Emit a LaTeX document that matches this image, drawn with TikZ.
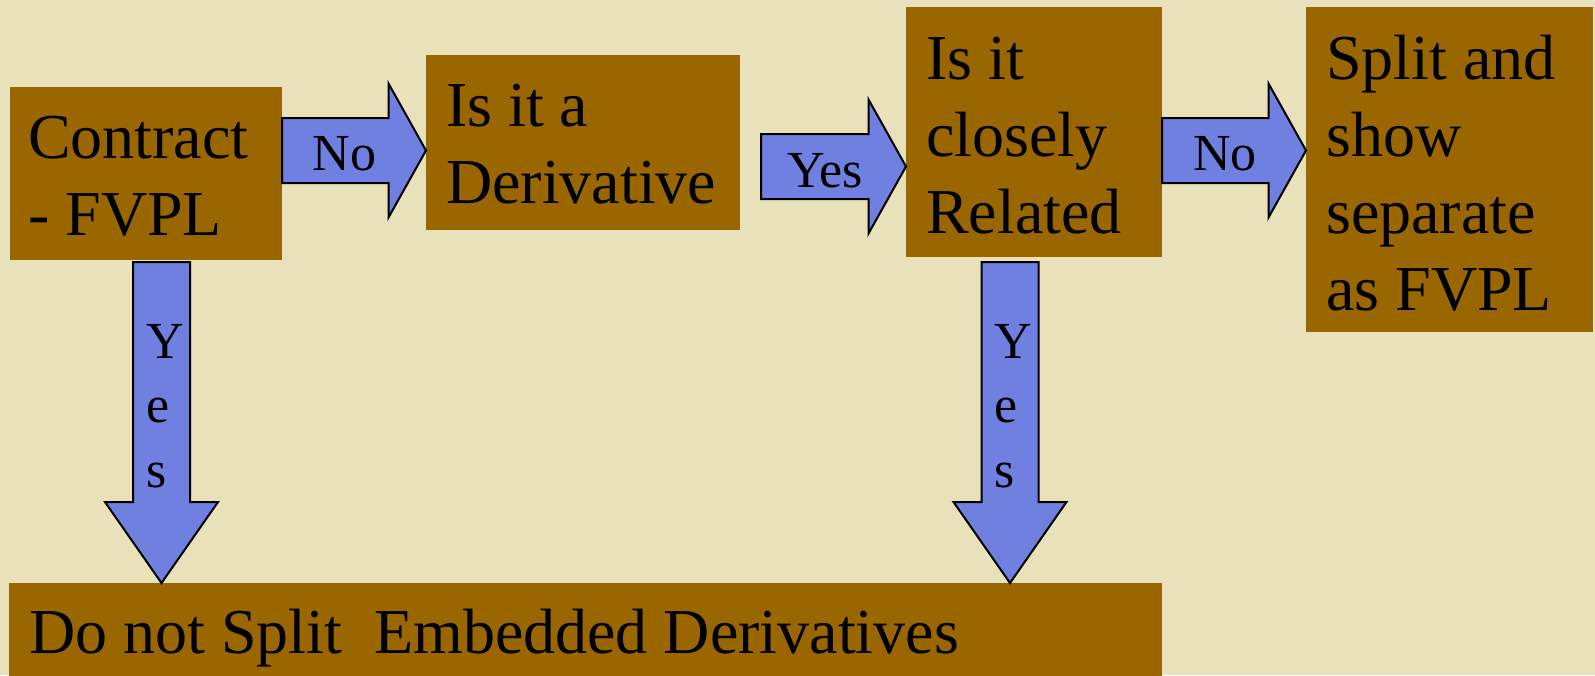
\documentclass[tikz,border=0pt]{standalone}
\usepackage{fontspec}
\setmainfont{Liberation Serif}
\usetikzlibrary{calc}
\definecolor{pagebg}{HTML}{E8E1B9}
\definecolor{boxbrown}{HTML}{996600}
\definecolor{arrowblue}{HTML}{7080E0}
\begin{document}
\begin{tikzpicture}[x=1pt, y=-1pt,
	box/.style={fill=boxbrown, inner sep=0pt, outer sep=0pt},
	boxtext/.style={anchor=base west, text width=1150pt, align=flush left, inner sep=0pt, font=\fontsize{64}{77}\selectfont},
	blockarrow/.style={fill=arrowblue, draw=black, line width=2pt, line join=miter},
	arrowtext/.style={anchor=base, text width=100pt, align=center, inner sep=0pt, font=\fontsize{52}{64.5}\selectfont},
	downtext/.style={anchor=base west, text width=60pt, align=flush left, inner sep=0pt, font=\fontsize{52}{64.5}\selectfont}]
	\fill[pagebg] (0,0) rectangle (1595,675);
	\useasboundingbox (0,0) rectangle (1595,675);
	% boxes
	\node[box, minimum width=272, minimum height=173] (contract) at (146,173.5) {};
	\node[box, minimum width=314, minimum height=175] (deriv) at (583,142.5) {};
	\node[box, minimum width=256, minimum height=250] (related) at (1034,132) {};
	\node[box, minimum width=287, minimum height=325] (split) at (1449.5,169.5) {};
	\node[box, minimum width=1153, minimum height=93] (bottom) at (585.5,629.5) {};
	\node[boxtext] (contracttext) at (28,158) {Contract\\- FVPL};
	\node[boxtext] (derivtext) at (446,126) {Is it a\\Derivative};
	\node[boxtext] (relatedtext) at (926,79) {Is it\\closely\\Related};
	\node[boxtext] (splittext) at (1326,79) {Split and\\show\\separate\\as FVPL};
	\node[boxtext] (bottomtext) at (29,653) {Do not Split~ Embedded Derivatives};
	% arrow axes
	\coordinate (noA) at (0,150.5);
	\coordinate (yesA) at (0,166.5);
	\coordinate (noB) at (0,150.5);
	\coordinate (yesL) at (161.5,0);
	\coordinate (yesR) at (1010,0);
	% right arrows
	\draw[blockarrow] ($(contract.east |- noA)+(0,-32.5)$) -- ($(deriv.west |- noA)+(-37.5,-32.5)$) -- ++(0,-34.5) -- (deriv.west |- noA) -- ++(-37.5,67) -- ++(0,-34.5) -- ($(contract.east |- noA)+(0,32.5)$) -- cycle;
	\draw[blockarrow] ($(deriv.east |- yesA)+(21,-32.5)$) -- ($(related.west |- yesA)+(-37.5,-32.5)$) -- ++(0,-34.5) -- (related.west |- yesA) -- ++(-37.5,67) -- ++(0,-34.5) -- ($(deriv.east |- yesA)+(21,32.5)$) -- cycle;
	\draw[blockarrow] ($(related.east |- noB)+(0,-32.5)$) -- ($(split.west |- noB)+(-37.5,-32.5)$) -- ++(0,-34.5) -- (split.west |- noB) -- ++(-37.5,67) -- ++(0,-34.5) -- ($(related.east |- noB)+(0,32.5)$) -- cycle;
	% down arrows
	\draw[blockarrow] ($(yesL |- contract.south)+(-28.5,2)$) -- ($(yesL |- bottom.north)+(-28.5,-81)$) -- ++(-28,0) -- (yesL |- bottom.north) -- ++(56.5,-81) -- ++(-28,0) -- ($(yesL |- contract.south)+(28.5,2)$) -- cycle;
	\draw[blockarrow] ($(yesR |- related.south)+(-28.5,5)$) -- ($(yesR |- bottom.north)+(-28.5,-81)$) -- ++(-28,0) -- (yesR |- bottom.north) -- ++(56.5,-81) -- ++(-28,0) -- ($(yesR |- related.south)+(28.5,5)$) -- cycle;
	% arrow labels
	\node[arrowtext] (nolabelA) at (344.5,170) {No};
	\node[arrowtext] (yeslabelA) at (825,187) {Yes};
	\node[arrowtext] (nolabelB) at (1225,170) {No};
	\node[downtext] (yeslabelL) at (146,358) {Y\\e\\s};
	\node[downtext] (yeslabelR) at (994,358) {Y\\e\\s};
\end{tikzpicture}
\end{document}
